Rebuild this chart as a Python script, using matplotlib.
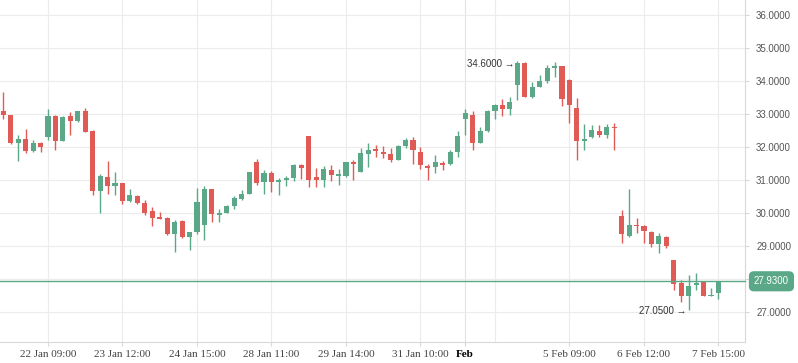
import matplotlib.pyplot as plt
from matplotlib.ticker import FixedLocator

# dane świecowe (open, high, low, close)
opens = [33.09, 32.97, 32.13, 32.24, 31.88, 32.12, 32.31, 32.94, 32.19, 32.94,
         32.80, 33.09, 32.48, 30.68, 31.09, 30.83, 30.91, 30.37, 30.52, 30.30,
         30.06, 29.86, 29.85, 29.37, 29.76, 29.28, 29.42, 29.64, 30.73, 29.95,
         30.00, 30.21, 30.42, 30.59, 31.55, 30.95, 31.21, 30.95, 31.00, 31.06,
         31.45, 32.33, 31.09, 31.00, 31.30, 31.12, 31.12, 31.55, 31.24, 31.79,
         31.94, 31.85, 31.79, 31.61, 32.03, 32.21, 31.85, 31.42, 31.39, 31.52,
         31.48, 31.85, 32.85, 32.97, 32.12, 32.48, 33.09, 33.27, 33.15, 33.88,
         34.55, 33.52, 33.82, 34.00, 34.39, 34.45, 34.03, 33.18, 32.18, 32.30,
         32.48, 32.36, 32.61, 29.91, 29.30, 29.64, 29.61, 29.42, 29.06, 29.27,
         28.58, 27.88, 27.48, 27.82, 27.91, 27.48, 27.58]
highs = [33.68, 32.97, 32.36, 32.55, 32.21, 32.15, 33.15, 32.97, 32.93, 33.06,
         33.09, 33.18, 32.51, 31.18, 31.58, 31.24, 30.91, 30.73, 30.55, 30.39,
         30.19, 30.03, 29.88, 29.79, 29.79, 29.42, 30.76, 30.82, 30.73, 30.12,
         30.24, 30.52, 30.70, 31.24, 31.64, 31.30, 31.27, 31.06, 31.12, 31.48,
         31.48, 32.33, 31.36, 31.42, 31.45, 31.33, 31.55, 31.61, 31.97, 32.12,
         32.06, 32.03, 31.97, 32.06, 32.27, 32.30, 32.00, 31.48, 31.76, 31.58,
         31.91, 32.48, 33.15, 33.09, 32.61, 33.12, 33.30, 33.45, 33.52, 34.60,
         34.57, 33.97, 34.18, 34.48, 34.58, 34.45, 34.06, 33.48, 32.70, 32.67,
         32.67, 32.70, 32.73, 30.09, 30.73, 29.85, 29.64, 29.45, 29.39, 29.30,
         28.58, 27.97, 28.12, 28.18, 27.91, 27.73, 27.93]
lows = [32.85, 32.10, 31.59, 31.83, 31.85, 31.85, 32.22, 31.92, 32.19, 32.37,
        32.77, 32.46, 30.53, 30.01, 30.59, 30.56, 30.28, 30.34, 30.27, 29.95,
        29.62, 29.81, 29.34, 28.83, 29.25, 28.89, 29.37, 29.19, 29.73, 29.73,
        30.00, 30.12, 30.39, 30.59, 30.86, 30.59, 30.65, 30.56, 30.82, 30.97,
        31.03, 30.79, 30.79, 30.79, 30.97, 30.85, 31.09, 31.00, 31.24, 31.39,
        31.70, 31.67, 31.55, 31.61, 31.97, 31.48, 31.33, 31.00, 31.21, 31.30,
        31.45, 31.70, 32.36, 31.91, 32.12, 32.45, 32.85, 32.94, 32.97, 33.42,
        33.52, 33.48, 33.82, 33.94, 34.12, 33.24, 32.73, 31.61, 31.91, 32.27,
        32.30, 32.27, 31.91, 29.09, 29.27, 29.39, 29.09, 28.97, 28.79, 28.94,
        27.68, 27.31, 27.05, 27.67, 27.48, 27.48, 27.39]
closes = [32.97, 32.13, 32.24, 31.89, 32.12, 32.01, 32.94, 32.19, 32.91, 32.80,
          33.09, 32.46, 30.68, 31.12, 30.83, 30.91, 30.37, 30.55, 30.30, 30.01,
          29.86, 29.83, 29.37, 29.73, 29.28, 29.42, 30.33, 30.73, 29.98, 30.00,
          30.21, 30.45, 30.58, 31.24, 30.92, 31.21, 30.95, 31.00, 31.06, 31.45,
          31.36, 31.00, 31.00, 31.33, 31.15, 31.18, 31.55, 31.48, 31.82, 31.91,
          31.88, 31.79, 31.61, 32.03, 32.21, 31.91, 31.45, 31.36, 31.55, 31.45,
          31.85, 32.33, 33.03, 32.12, 32.48, 33.09, 33.27, 33.15, 33.36, 34.55,
          33.52, 33.82, 34.00, 34.39, 34.45, 33.45, 33.27, 32.18, 32.24, 32.52,
          32.36, 32.61, 32.58, 29.36, 29.64, 29.61, 29.45, 29.06, 29.30, 29.00,
          27.86, 27.48, 27.79, 27.88, 27.48, 27.52, 27.93]

# etykiety osi X (pozycje = numer świecy)
tick_pos = [6, 16, 26, 36, 46, 56, 62, 76, 86, 96]
tick_labels = ['22 Jan 09:00', '23 Jan 12:00', '24 Jan 15:00', '28 Jan 11:00',
               '29 Jan 14:00', '31 Jan 10:00', 'Feb', '5 Feb 09:00',
               '6 Feb 12:00', '7 Feb 15:00']
extra_grid = [66]  # linia siatki bez etykiety
y_ticks = [27, 28, 29, 30, 31, 32, 33, 34, 35, 36]

last_price = 27.93
max_idx, max_val = 69, 34.60
min_idx, min_val = 92, 27.05

green = '#5aa887'
red = '#e05a56'
grid_c = '#ececec'

fig = plt.figure(figsize=(7.98, 3.63), dpi=100)
ax = fig.add_axes([0, 21 / 363, 745 / 798, 342 / 363])

# świece: knoty + korpusy
for i in range(len(opens)):
    o, h, l, c = opens[i], highs[i], lows[i], closes[i]
    col = green if c >= o else red
    ax.vlines(i, l, h, color=col, lw=1.0, zorder=3)
    bottom = min(o, c)
    height = max(abs(c - o), 0.035)
    ax.bar(i, height, bottom=bottom, width=0.68, color=col, lw=0, zorder=4)

# linia ostatniej ceny
ax.axhline(last_price, color=green, lw=1.0, zorder=5, clip_on=False)

ax.set_xlim(-0.44, 99.56)
ax.set_ylim(26.09, 36.455)

# siatka
for x in tick_pos + extra_grid:
    ax.axvline(x, color='#e2e2e2' if x == 62 else grid_c, lw=0.8, zorder=0)
for y in y_ticks:
    ax.axhline(y, color=grid_c, lw=0.8, zorder=0)

# osie
for s in ['top', 'left']:
    ax.spines[s].set_visible(False)
for s in ['bottom', 'right']:
    ax.spines[s].set_color('#d8d8d8')
    ax.spines[s].set_linewidth(0.8)

# etykieta 28.0000 jest zasłonięta przez znacznik ceny, więc jej nie ma
ax.yaxis.tick_right()
ax.set_yticks(y_ticks)
ax.set_yticklabels(['' if v == 28 else f'{v:.4f}' for v in y_ticks], fontsize=7,
                   family='Liberation Sans', color='#555555')
ax.tick_params(axis='y', length=3, pad=5, color='#d8d8d8', width=0.8)

ax.xaxis.set_major_locator(FixedLocator(tick_pos))
ax.set_xticklabels(tick_labels, fontsize=8, family='Liberation Serif',
                   color='#444444')
ax.tick_params(axis='x', length=3, pad=3, color='#d8d8d8', width=0.8)
for lab in ax.get_xticklabels():
    if lab.get_text() == 'Feb':
        lab.set_fontweight('bold')
        lab.set_color('black')

# znacznik ostatniej ceny po prawej stronie
ax.text(1.012, last_price, f'{last_price:.4f}', transform=ax.get_yaxis_transform(),
        ha='left', va='center', fontsize=7, family='Liberation Sans', color='white',
        zorder=10, clip_on=False,
        bbox=dict(boxstyle='round,pad=0.45', fc=green, ec=green))

# adnotacje max / min
ax.text(max_idx - 0.4, max_val - 0.08, f'{max_val:.4f} \u2192', ha='right', va='center',
        fontsize=7, family=['Liberation Sans', 'DejaVu Sans'], color='#333333', zorder=6)
ax.text(min_idx - 0.3, min_val - 0.02, f'{min_val:.4f} \u2192', ha='right', va='center',
        fontsize=7, family=['Liberation Sans', 'DejaVu Sans'], color='#333333', zorder=6)

fig.savefig('out.png', dpi=100)
